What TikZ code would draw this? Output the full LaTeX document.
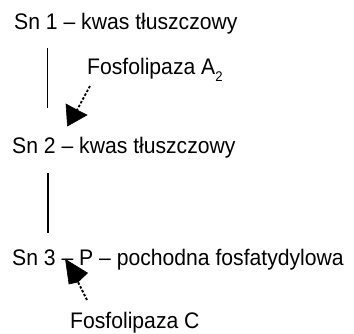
\documentclass[tikz,border=0pt]{standalone}
\usepackage{fontspec}
\setmainfont{Liberation Sans}[FakeStretch=0.94]
\tikzset{
  lbl/.style={anchor=base west, inner sep=0pt, font=\fontsize{22.5}{26}\selectfont},
  vline/.style={line width=1.3pt},
  tailline/.style={line width=1.8pt, dash pattern=on 2.5pt off 1.8pt},
  headfill/.style={fill=black, draw=black, line width=0.6pt, line join=miter}
}
\begin{document}
\begin{tikzpicture}[x=1pt,y=-1pt]
\useasboundingbox (0,0) rectangle (354,334);
\node[lbl] (sn1) at (14,30) {Sn 1 – kwas tłuszczowy};
\node[lbl] (fa2) at (87,75) {Fosfolipaza A\raisebox{-0.28em}{\fontsize{14}{14}\selectfont 2}};
\node[lbl] (sn2) at (12,154) {Sn 2 – kwas tłuszczowy};
\node[lbl] (sn3) at (12,265.5) {Sn 3 – P – pochodna fosfatydylowa};
\node[lbl] (fc) at (70,328.5) {Fosfolipaza C};
% vertical lines
\coordinate (v1a) at (47.5,48);
\coordinate (v1b) at (47.5,108);
\coordinate (v2a) at (48,173);
\coordinate (v2b) at (48,233);
\draw[vline] (v1a) -- (v1b);
\draw[vline] (v2a) -- (v2b);
% arrow 1 (Fosfolipaza A2)
\coordinate (t1) at (90,86);
\coordinate (b1) at (77,110);
\coordinate (p1) at (67.5,126);
\coordinate (l1) at (66,104);
\coordinate (r1) at (87,115);
\draw[tailline] (t1) -- (b1);
\fill[headfill] (p1) -- (l1) -- (b1) -- (r1) -- cycle;
% arrow 2 (Fosfolipaza C)
\coordinate (t2) at (87,300);
\coordinate (b2) at (78,282);
\coordinate (p2) at (65.5,259.5);
\coordinate (l2) at (69,284);
\coordinate (r2) at (87.5,273);
\draw[tailline] (t2) -- (b2);
\fill[headfill] (p2) -- (l2) -- (b2) -- (r2) -- cycle;
\end{tikzpicture}
\end{document}
